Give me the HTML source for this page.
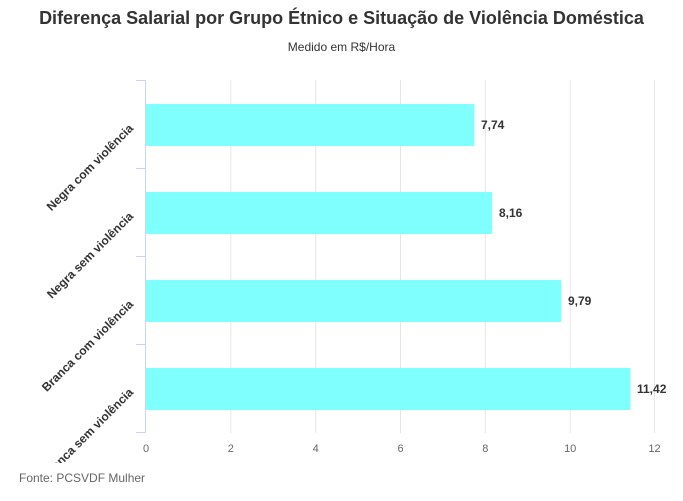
<!DOCTYPE html>
<html><head><meta charset="utf-8"><style>
html,body{margin:0;padding:0;background:#fff;width:683px;height:501px;overflow:hidden}
text{font-family:"Liberation Sans",sans-serif}
</style></head><body>
<svg width="683" height="501" viewBox="0 0 683 501" xmlns="http://www.w3.org/2000/svg">
<defs><clipPath id="c"><rect x="0" y="70" width="683" height="393"/></clipPath></defs>
<text x="341.5" y="24" text-anchor="middle" font-size="18" font-weight="bold" fill="#333">Diferença Salarial por Grupo Étnico e Situação de Violência Doméstica</text>
<text x="341.5" y="51" text-anchor="middle" font-size="12" fill="#333">Medido em R$/Hora</text>
<g stroke="#e6e6e6" stroke-width="1">
<line x1="230.8" y1="80" x2="230.8" y2="433"/>
<line x1="315.7" y1="80" x2="315.7" y2="433"/>
<line x1="400.5" y1="80" x2="400.5" y2="433"/>
<line x1="485.3" y1="80" x2="485.3" y2="433"/>
<line x1="570.2" y1="80" x2="570.2" y2="433"/>
<line x1="654.5" y1="80" x2="654.5" y2="433"/>
</g>
<g stroke="#ccd6eb" stroke-width="1">
<line x1="145.5" y1="80" x2="145.5" y2="433"/>
<line x1="136" y1="80.5" x2="145.5" y2="80.5"/>
<line x1="136" y1="168.5" x2="145.5" y2="168.5"/>
<line x1="136" y1="256.5" x2="145.5" y2="256.5"/>
<line x1="136" y1="344.5" x2="145.5" y2="344.5"/>
<line x1="136" y1="432.5" x2="145.5" y2="432.5"/>
</g>
<g fill="#80ffff">
<rect x="146" y="104" width="328.4" height="42"/>
<rect x="146" y="192" width="346.2" height="42"/>
<rect x="146" y="280" width="415.3" height="42"/>
<rect x="146" y="368" width="484.5" height="42"/>
</g>
<g font-size="12" font-weight="bold" fill="#333">
<text x="481" y="129">7,74</text>
<text x="499" y="217">8,16</text>
<text x="568" y="305">9,79</text>
<text x="637" y="393">11,42</text>
</g>
<g font-size="11" fill="#666" text-anchor="middle">
<text x="146" y="452">0</text>
<text x="230.8" y="452">2</text>
<text x="315.7" y="452">4</text>
<text x="400.5" y="452">6</text>
<text x="485.3" y="452">8</text>
<text x="570.2" y="452">10</text>
<text x="654.5" y="452">12</text>
</g>
<g clip-path="url(#c)" font-size="12" font-weight="bold" fill="#333" text-anchor="end">
<text transform="translate(134,129) rotate(-45)">Negra com violência</text>
<text transform="translate(134,217) rotate(-45)">Negra sem violência</text>
<text transform="translate(134,305) rotate(-45)">Branca com violência</text>
<text transform="translate(134,393) rotate(-45)">Branca sem violência</text>
</g>
<text x="19" y="482" font-size="12" fill="#666">Fonte: PCSVDF Mulher</text>
</svg>
</body></html>
